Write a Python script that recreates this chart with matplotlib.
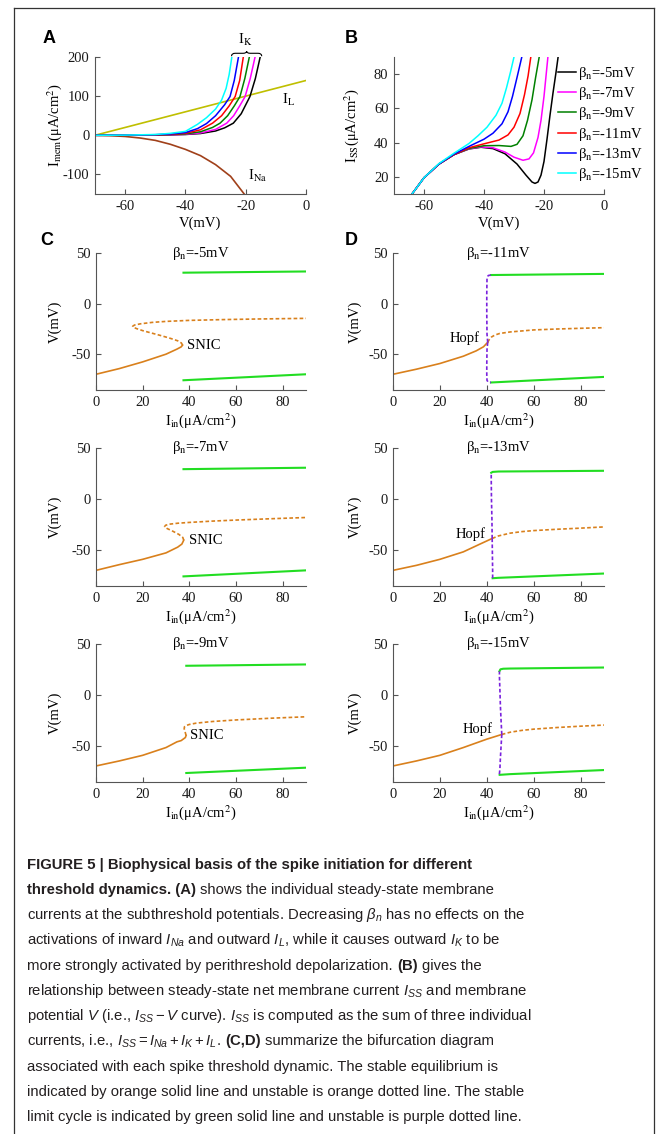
import matplotlib
matplotlib.use('Agg')
import matplotlib.pyplot as plt
from matplotlib import font_manager as fm
from matplotlib.path import Path
from matplotlib.patches import PathPatch

# ---------------- data ----------------
# Panel A: individual steady-state currents
A_IL_V = [-70, 0]
A_IL_I = [0, 140]
A_INa_V = [-70, -65, -60, -55, -50, -45, -40, -35, -30, -25, -20.5]
A_INa_I = [0, -1, -3, -7, -13, -23, -36, -52, -75, -105, -150]
beta_labels = ['-5', '-7', '-9', '-11', '-13', '-15']
beta_colors = ['#000000', '#FF00FF', '#008000', '#FF0000', '#0000FF', '#00FFFF']
IK_V = {
    '-5':  [-70, -60, -50, -45, -40, -35, -30, -27, -24.1, -21.5, -18.6, -16.8, -15.2],
    '-7':  [-70, -60, -50, -45, -40, -35, -30, -26.3, -24, -22, -20.2, -18.5, -16.9],
    '-9':  [-70, -60, -50, -45, -40, -35, -31, -28.5, -26, -23.8, -21.9, -20.3, -18.8],
    '-11': [-70, -60, -50, -45, -40, -35, -31, -28, -25.5, -23.5, -22, -20.8],
    '-13': [-70, -60, -50, -45, -40, -36, -33, -30, -27, -25.2, -23.8, -22.4],
    '-15': [-70, -60, -50, -45, -40, -36, -33, -30, -28, -26.5, -25.5, -24.6],
}
IK_I = {
    '-5':  [0, 0.1, 0.4, 1, 2, 4.5, 11, 19, 31, 55, 99, 145, 200],
    '-7':  [0, 0.1, 0.5, 1.2, 2.5, 6, 15, 31, 50, 75, 99, 145, 200],
    '-9':  [0, 0.1, 0.7, 1.8, 3.5, 9, 20, 31, 50, 75, 99, 145, 200],
    '-11': [0, 0.2, 1, 2.5, 5, 14, 31, 50, 75, 99, 140, 200],
    '-13': [0, 0.3, 1.5, 3.5, 7, 17, 30, 50, 78, 99, 140, 200],
    '-15': [0, 0.5, 2, 5, 10, 28, 45, 67, 90, 120, 155, 200],
}
# Panel B: I_SS - V curves
ISS_V = {
    '-5':  [-64, -60, -55, -50, -45, -41, -37, -33, -29, -26, -24, -23, -22, -21, -20, -19, -18, -17, -16, -15.3],
    '-7':  [-64, -60, -55, -50, -45, -41, -37, -33, -30, -27, -25, -23.5, -22, -21, -20, -18.7],
    '-9':  [-64, -60, -55, -50, -45, -40, -35, -31, -29, -27, -25.5, -24, -22.8, -21.6],
    '-11': [-64, -60, -55, -50, -45, -40, -35, -32, -30, -28, -26.5, -25.3, -24.4],
    '-13': [-64, -60, -55, -50, -45, -40, -37, -34, -32, -30.5, -29, -27.4],
    '-15': [-64, -60, -55, -50, -45, -42, -39, -36, -34, -32.5, -31.2, -30],
}
ISS_I = {
    '-5':  [10, 19.5, 27.5, 33, 36.3, 37.3, 36.5, 33.5, 27.5, 21, 17, 16.2, 17, 21, 29, 42, 56, 69, 81, 90],
    '-7':  [10, 19.5, 27.5, 33, 36.4, 37.5, 37, 34.5, 31.5, 29.7, 30.5, 34, 43, 53, 67, 90],
    '-9':  [10, 19.5, 27.5, 33, 36.6, 38.2, 38.3, 37.8, 39, 44, 53, 65, 78, 90],
    '-11': [10, 19.5, 27.5, 33, 37, 39.3, 41.5, 44.5, 49, 57, 68, 79, 90],
    '-13': [10, 19.5, 27.5, 33.3, 37.8, 42, 45.5, 51, 58, 67, 78, 90],
    '-15': [10, 19.5, 27.8, 33.8, 39.5, 44, 49, 56, 63, 72, 81, 90],
}

# Panels C (SNIC): beta = -5, -7, -9
C_titles = ['-5', '-7', '-9']
C_stab_I = [[0, 10, 20, 30, 34.7, 36.5, 37.1],
            [0, 10, 20, 30, 35, 36.8, 37.6],
            [0, 10, 20, 30, 34.7, 36.5, 38.3, 38.6]]
C_stab_V = [[-69.5, -63.9, -57.3, -49.7, -44.7, -42.5, -40.8],
            [-69.7, -64.1, -58.9, -52.6, -47, -44, -40.2],
            [-69.3, -64.4, -58.9, -51.3, -45.7, -44.5, -41.5, -39.5]]
C_unst_I = [[37.1, 36.6, 35, 32, 28, 24, 20, 17.5, 16, 15.7, 16.5, 19, 24, 30, 40, 55, 70, 90],
            [37.6, 37.2, 35.5, 33, 30.5, 29.4, 29.8, 31.5, 35, 40, 50, 60, 75, 90],
            [38.6, 38.2, 37.8, 37.9, 38.6, 40, 43, 50, 60, 75, 90]]
C_unst_V = [[-40.8, -38.7, -36.5, -34.2, -31.5, -29, -26.5, -24.6, -23.2, -22.2, -21.0, -19.8, -18.4, -17.4, -16.4, -15.6, -15.0, -14.4],
            [-40.2, -37.5, -34.5, -31.5, -28.8, -27, -25.6, -24.5, -23.6, -22.8, -21.5, -20.5, -19.2, -18],
            [-39.5, -36, -33, -31, -29.8, -28.7, -27.4, -25.8, -24.3, -22.6, -21.2]]
C_lc_top_I = [[37.5, 90], [37.5, 90], [38.7, 90]]
C_lc_top_V = [[30.6, 31.8], [29.3, 30.7], [28.7, 30.0]]
C_lc_bot_I = [[37.5, 90], [37.5, 90], [38.7, 90]]
C_lc_bot_V = [[-75.4, -69.5], [-75.6, -69.7], [-76.2, -71.0]]
C_snic_pos = [(39.0, -41.4), (39.7, -40.2), (40.4, -39.8)]

# Panels D (Hopf): beta = -11, -13, -15
D_titles = ['-11', '-13', '-15']
D_stab_I = [[0, 10, 20, 30, 35.5, 38.6, 40.4],
            [0, 10, 20, 30, 37, 42.3],
            [0, 10, 20, 30, 40, 46.4]]
D_stab_V = [[-69.5, -64.5, -58.9, -51.7, -46.4, -42.4, -38],
            [-69.7, -64.8, -58.9, -51.6, -44.1, -38.5],
            [-69.3, -64.4, -58.9, -51.3, -43.1, -38.5]]
D_unst_I = [[40.4, 41, 42, 43.5, 45.5, 50, 60, 70, 80, 90],
            [42.3, 45, 50, 55, 60, 70, 80, 90],
            [46.4, 50, 55, 60, 70, 80, 90]]
D_unst_V = [[-38, -35.5, -32.8, -30.8, -29.3, -27.8, -25.8, -24.9, -24.2, -23.6],
            [-38.5, -36, -33.3, -31.8, -30.8, -29.5, -28.4, -27.2],
            [-38.5, -36.3, -34.5, -33.3, -31.7, -30.4, -29.3]]
D_ulc_top_I = [[40.4, 40.1, 40.0, 40.0, 40.1, 40.6, 41.8],
               [42.3, 42.2, 42.0, 41.9, 41.9],
               [46.4, 46.1, 45.8, 45.6, 45.4, 45.4]]
D_ulc_top_V = [[-38, -30, -10, 10, 25, 27.8, 28.3],
               [-38.5, -20, 0, 20, 25.8],
               [-38.5, -25, -10, 5, 18, 23.3]]
D_ulc_bot_I = [[40.4, 40.1, 40.0, 40.0, 40.1, 40.6, 41.8],
               [42.3, 42.4, 42.5, 42.5, 42.5],
               [46.4, 46.1, 45.8, 45.6, 45.4, 45.5]]
D_ulc_bot_V = [[-38, -45, -60, -70, -75.5, -77.2, -77.6],
               [-38.5, -55, -70, -76, -77.4],
               [-38.5, -50, -62, -72, -77, -78]]
D_lc_top_I = [[41.8, 90], [41.9, 42.5, 45, 90], [45.4, 45.8, 47, 50, 90]]
D_lc_top_V = [[28.3, 29.4], [25.8, 26.6, 27, 27.7], [23.3, 25.2, 25.8, 26, 27]]
D_lc_bot_I = [[41.8, 90], [42.5, 45, 90], [45.5, 50, 90]]
D_lc_bot_V = [[-77.6, -72.1], [-77.4, -77.0, -72.8], [-78, -77.3, -73.3]]
D_hopf_pos = [(36.9, -34.2), (39.7, -33.9), (42.6, -33.6)]

# ---------------- style ----------------
names = {f.name for f in fm.fontManager.ttflist}
CAP_FONT = 'Liberation Sans Narrow' if 'Liberation Sans Narrow' in names else 'Liberation Sans'
SERIF = 'Liberation Serif'
plt.rcParams['font.family'] = [SERIF, 'DejaVu Sans']
plt.rcParams['axes.unicode_minus'] = False
plt.rcParams['mathtext.fontset'] = 'custom'
plt.rcParams['mathtext.rm'] = CAP_FONT
plt.rcParams['mathtext.it'] = CAP_FONT + ':italic'
plt.rcParams['mathtext.bf'] = CAP_FONT + ':bold'

W, H = 667, 1134
TS = 10.5
AX_C = '#555555'
ORANGE = '#D9801C'
GREEN = '#22DD22'
PURPLE = '#7A22DD'
DASH = (0, (2.2, 1.4))

fig = plt.figure(figsize=(W / 100, H / 100), dpi=100)


def add_ax(x0, y0, x1, y1):
    return fig.add_axes([x0 / W, 1 - y1 / H, (x1 - x0) / W, (y1 - y0) / H])


def style(ax, xl, yl, ylab_x, xlab_y):
    for s in ['top', 'right']:
        ax.spines[s].set_visible(False)
    for s in ['left', 'bottom']:
        ax.spines[s].set_color(AX_C)
        ax.spines[s].set_linewidth(0.8)
    ax.tick_params(direction='in', length=3.5, width=0.8, color=AX_C,
                   labelsize=TS, labelcolor='#1a1a1a', pad=4)
    ax.set_xlabel(xl, fontsize=TS, math_fontfamily='stix')
    ax.set_ylabel(yl, fontsize=TS, math_fontfamily='stix')
    ax.yaxis.set_label_coords(ylab_x, 0.5)
    ax.xaxis.set_label_coords(0.5, xlab_y)
    ax.xaxis.label.set_va('center')
    ax.yaxis.label.set_va('center')


# ---- Panel A ----
axA = add_ax(95, 57, 306, 194)
axA.plot(A_IL_V, A_IL_I, color='#BFBF00', lw=1.2)
axA.plot(A_INa_V, A_INa_I, color='#A0401A', lw=1.2)
for b, c in zip(beta_labels, beta_colors):
    axA.plot(IK_V[b], IK_I[b], color=c, lw=1.1)
axA.set_xlim(-70, 0)
axA.set_ylim(-150, 200)
axA.set_xticks([-60, -40, -20, 0])
axA.set_yticks([-100, 0, 100, 200])
style(axA, 'V(mV)', r'I$_{\rm mem}$(μA/cm$^{2}$)', -0.19, -0.21)
axA.text(-8, 90, r'I$_{\rm L}$', fontsize=TS, math_fontfamily='stix', ha='left', va='center')
axA.text(-19.2, -104, r'I$_{\rm Na}$', fontsize=TS, math_fontfamily='stix', ha='left', va='center')
axA.text(-20.3, 243, r'I$_{\rm K}$', fontsize=TS, math_fontfamily='stix', ha='center', va='center', clip_on=False)
x0, xm, x1, yb, yh, yp = -24.7, -19.7, -14.7, 202, 209.5, 215
verts = [(x0, yb), (x0, yh), (x0 + 1.2, yh), (xm - 1.2, yh), (xm, yh), (xm, yp),
         (xm, yh), (xm + 1.2, yh), (x1 - 1.2, yh), (x1, yh), (x1, yb)]
codes = [Path.MOVETO, Path.CURVE3, Path.CURVE3, Path.LINETO, Path.CURVE3, Path.CURVE3,
         Path.CURVE3, Path.CURVE3, Path.LINETO, Path.CURVE3, Path.CURVE3]
axA.add_patch(PathPatch(Path(verts, codes), fill=False, lw=0.8, color='k', clip_on=False))

# ---- Panel B ----
axB = add_ax(394, 57, 604, 194)
for b, c in zip(beta_labels, beta_colors):
    axB.plot(ISS_V[b], ISS_I[b], color=c, lw=1.1, label='β$_{\\rm n}$=' + b + 'mV')
axB.set_xlim(-70, 0)
axB.set_ylim(10, 90)
axB.set_xticks([-60, -40, -20, 0])
axB.set_yticks([20, 40, 60, 80])
style(axB, 'V(mV)', r'I$_{\rm SS}$(μA/cm$^{2}$)', -0.2, -0.21)
leg = axB.legend(loc='upper left', bbox_to_anchor=(558 / W, 1 - 65 / H),
                 bbox_transform=fig.transFigure, frameon=False, handlelength=1.2,
                 handletextpad=0.2, labelspacing=0.22, borderaxespad=0, borderpad=0,
                 prop=dict(family=SERIF, size=TS, math_fontfamily='stix'))

# ---- Panels C & D ----
rows = [(253, 390), (448, 586), (644, 782)]
for k in range(3):
    y0, y1 = rows[k]
    # C
    ax = add_ax(96, y0, 306, y1)
    ax.plot(C_stab_I[k], C_stab_V[k], color=ORANGE, lw=1.2)
    ax.plot(C_unst_I[k], C_unst_V[k], color=ORANGE, lw=1.2, ls=DASH)
    ax.plot(C_lc_top_I[k], C_lc_top_V[k], color=GREEN, lw=1.5)
    ax.plot(C_lc_bot_I[k], C_lc_bot_V[k], color=GREEN, lw=1.5)
    ax.set_xlim(0, 90)
    ax.set_ylim(-85, 50)
    ax.set_xticks([0, 20, 40, 60, 80])
    ax.set_yticks([-50, 0, 50])
    style(ax, r'I$_{\rm in}$(μA/cm$^{2}$)', 'V(mV)', -0.195, -0.22)
    ax.text(0.5, 1.0, 'β$_{\\rm n}$=' + C_titles[k] + 'mV', transform=ax.transAxes,
            ha='center', va='center', fontsize=TS, math_fontfamily='stix')
    ax.text(C_snic_pos[k][0], C_snic_pos[k][1], 'SNIC', ha='left', va='center', fontsize=TS)
    # D
    ax = add_ax(393, y0, 604, y1)
    ax.plot(D_stab_I[k], D_stab_V[k], color=ORANGE, lw=1.2)
    ax.plot(D_unst_I[k], D_unst_V[k], color=ORANGE, lw=1.2, ls=DASH)
    ax.plot(D_lc_top_I[k], D_lc_top_V[k], color=GREEN, lw=1.5)
    ax.plot(D_lc_bot_I[k], D_lc_bot_V[k], color=GREEN, lw=1.5)
    ax.plot(D_ulc_top_I[k], D_ulc_top_V[k], color=PURPLE, lw=1.2, ls=DASH)
    ax.plot(D_ulc_bot_I[k], D_ulc_bot_V[k], color=PURPLE, lw=1.2, ls=DASH)
    ax.set_xlim(0, 90)
    ax.set_ylim(-85, 50)
    ax.set_xticks([0, 20, 40, 60, 80])
    ax.set_yticks([-50, 0, 50])
    style(ax, r'I$_{\rm in}$(μA/cm$^{2}$)', 'V(mV)', -0.18, -0.22)
    ax.text(0.5, 1.0, 'β$_{\\rm n}$=' + D_titles[k] + 'mV', transform=ax.transAxes,
            ha='center', va='center', fontsize=TS, math_fontfamily='stix')
    ax.text(D_hopf_pos[k][0], D_hopf_pos[k][1], 'Hopf', ha='right', va='center', fontsize=TS)

# panel letters
for lab, (px, py) in zip('ABCD', [(43, 43), (345, 43), (40, 245), (345, 245)]):
    fig.text(px / W, 1 - py / H, lab, fontsize=13, weight='bold', family='Liberation Sans',
             ha='left', va='baseline')

# frame
frame_kw = dict(color='#333333', lw=0.9, transform=fig.transFigure)
fig.add_artist(plt.Line2D([14 / W, 14 / W], [0, 1 - 8 / H], **frame_kw))
fig.add_artist(plt.Line2D([14 / W, 654 / W], [1 - 8 / H, 1 - 8 / H], **frame_kw))
fig.add_artist(plt.Line2D([654 / W, 654 / W], [0, 1 - 8 / H], **frame_kw))

# ---------------- caption ----------------
CS = 10.75
renderer = fig.canvas.get_renderer()


def text_w(s, weight):
    t = fig.text(0, 0, s, fontsize=CS, family=CAP_FONT, weight=weight, math_fontfamily='custom')
    w = t.get_window_extent(renderer).width
    t.remove()
    return w


SPACE = {wt: text_w('a a', wt) - text_w('aa', wt) for wt in ['normal', 'bold']}

caption_lines = [
    [('FIGURE 5 | Biophysical basis of the spike initiation for different', 'bold')],
    [('threshold dynamics. (A)', 'bold'), (' ', 'normal'), ('shows the individual steady-state membrane', 'normal')],
    [(r'currents at the subthreshold potentials. Decreasing $\beta_n$ has no effects on the', 'normal')],
    [(r'activations of inward $I_{Na}$ and outward $I_L$, while it causes outward $I_K$ to be', 'normal')],
    [('more strongly activated by perithreshold depolarization.', 'normal'), (' ', 'normal'), ('(B)', 'bold'), (' ', 'normal'), ('gives the', 'normal')],
    [(r'relationship between steady-state net membrane current $I_{SS}$ and membrane', 'normal')],
    [(r'potential $V$ (i.e., $I_{SS}-V$ curve). $I_{SS}$ is computed as the sum of three individual', 'normal')],
    [(r'currents, i.e., $I_{SS}=I_{Na}+I_K+I_L$.', 'normal'), (' ', 'normal'), ('(C,D)', 'bold'), (' ', 'normal'), ('summarize the bifurcation diagram', 'normal')],
    [('associated with each spike threshold dynamic. The stable equilibrium is', 'normal')],
    [('indicated by orange solid line and unstable is orange dotted line. The stable', 'normal')],
    [('limit cycle is indicated by green solid line and unstable is purple dotted line.', 'normal')],
]
for i, runs in enumerate(caption_lines):
    yb = 869 + 25.2 * i
    x = 27.3
    for s, wt in runs:
        if s == ' ':
            x += SPACE[wt]
            continue
        t = fig.text(x / W, 1 - yb / H, s, fontsize=CS, family=CAP_FONT, weight=wt,
                     ha='left', va='baseline', color='#231F20', math_fontfamily='custom')
        x += t.get_window_extent(renderer).width

fig.savefig('out.png', dpi=100)
